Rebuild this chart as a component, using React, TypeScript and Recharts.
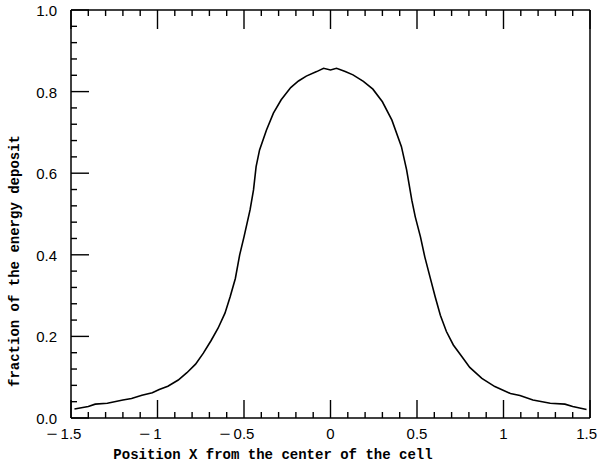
import React from 'react';
import { LineChart, Line, XAxis, YAxis } from 'recharts';

const xValues = [
  -1.48, -1.4, -1.36, -1.29, -1.2, -1.15, -1.09, -1.03, -0.99, -0.94, -0.88, -0.83, -0.78, -0.735,
  -0.69, -0.65, -0.61, -0.58, -0.55, -0.525, -0.5, -0.465, -0.445, -0.43, -0.41, -0.37, -0.33,
  -0.285, -0.23, -0.185, -0.14, -0.08, -0.04, 0.0, 0.035, 0.085, 0.13, 0.19, 0.245, 0.3, 0.355,
  0.41, 0.44, 0.47, 0.49, 0.52, 0.545, 0.575, 0.605, 0.635, 0.67, 0.71, 0.76, 0.805, 0.875, 0.95,
  1.04, 1.095, 1.17, 1.27, 1.355, 1.4, 1.48,
];
const energyFraction = [
  0.022, 0.028, 0.034, 0.036, 0.044, 0.048, 0.056, 0.062, 0.07, 0.078, 0.093, 0.111, 0.132, 0.159,
  0.19, 0.22, 0.257, 0.297, 0.342, 0.4, 0.444, 0.51, 0.559, 0.616, 0.657, 0.706, 0.747,
  0.78, 0.81, 0.826, 0.838, 0.849, 0.857, 0.853, 0.857, 0.849, 0.841, 0.825, 0.806, 0.775, 0.73,
  0.665, 0.608, 0.534, 0.493, 0.444, 0.395, 0.346, 0.297, 0.252, 0.212, 0.179, 0.15, 0.124, 0.097, 0.077,
  0.06, 0.055, 0.044, 0.036, 0.034, 0.028, 0.021,
];

const xTicks = [
  -1.5, -1.4, -1.3, -1.2, -1.1, -1.0, -0.9, -0.8, -0.7, -0.6, -0.5, -0.4, -0.3, -0.2, -0.1, 0,
  0.1, 0.2, 0.3, 0.4, 0.5, 0.6, 0.7, 0.8, 0.9, 1.0, 1.1, 1.2, 1.3, 1.4, 1.5,
];
const xMajorTicks = [-1.5, -1, -0.5, 0, 0.5, 1, 1.5];
const xMajorLabels = ['1.5', '1', '0.5', '0', '0.5', '1', '1.5'];

const yTicks = [
  0, 0.04, 0.08, 0.12, 0.16, 0.2, 0.24, 0.28, 0.32, 0.36, 0.4, 0.44, 0.48, 0.52, 0.56, 0.6,
  0.64, 0.68, 0.72, 0.76, 0.8, 0.84, 0.88, 0.92, 0.96, 1.0,
];
const yMajorTicks = [0, 0.2, 0.4, 0.6, 0.8, 1.0];
const yMajorLabels = ['0.0', '0.2', '0.4', '0.6', '0.8', '1.0'];

const xTitle = 'Position X from the center of the cell';
const yTitle = 'fraction of the energy deposit';

const data = xValues.map((x, i) => ({ x, y: energyFraction[i] }));

const TICK_FONT = '"Liberation Sans", Arial, sans-serif';
const TITLE_FONT = '"Liberation Mono", "Courier New", monospace';
const FS = 15;

function majorIndex(arr: number[], v: number) {
  for (let i = 0; i < arr.length; i++) {
    if (Math.abs(arr[i] - v) < 1e-6) return i;
  }
  return -1;
}

function labelWidth(s: string) {
  let w = 0;
  for (let i = 0; i < s.length; i++) w += s[i] === '.' ? 0.278 * FS : 0.556 * FS;
  return w;
}

const BottomTick = (props: any) => {
  const x = Number(props.x);
  const y = Number(props.y);
  const idx = majorIndex(xMajorTicks, props.payload.value);
  const len = idx >= 0 ? 18 : 6;
  const label = idx >= 0 ? xMajorLabels[idx] : '';
  const neg = idx >= 0 && xMajorTicks[idx] < 0;
  const half = labelWidth(label) / 2;
  const cx = Math.min(x, 597 - half);
  return (
    <g>
      <path d={`M${x},${y}V${y - len}`} stroke="#000" strokeWidth={1.4} fill="none" />
      {idx >= 0 ? (
        <text x={cx} y={y + 21} textAnchor="middle" fontFamily={TICK_FONT} fontSize={FS} fill="#000">
          {label}
        </text>
      ) : null}
      {neg ? (
        <text x={cx - half - 14} y={y + 21} fontFamily={TICK_FONT} fontSize={FS} fill="#000"
          textLength={11} lengthAdjust="spacingAndGlyphs">
          −
        </text>
      ) : null}
    </g>
  );
};

const TopTick = (props: any) => {
  const x = Number(props.x);
  const y = Number(props.y);
  const len = majorIndex(xMajorTicks, props.payload.value) >= 0 ? 19 : 6;
  return (
    <g>
      <path d={`M${x},${y}V${y + len}`} stroke="#000" strokeWidth={1.4} fill="none" />
    </g>
  );
};

const LeftTick = (props: any) => {
  const x = Number(props.x);
  const y = Number(props.y);
  const idx = majorIndex(yMajorTicks, props.payload.value);
  const len = idx >= 0 ? 18 : 6;
  return (
    <g>
      <path d={`M${x},${y}H${x + len}`} stroke="#000" strokeWidth={1.4} fill="none" />
      {idx >= 0 ? (
        <text x={x - 14} y={y + 6} textAnchor="end" fontFamily={TICK_FONT} fontSize={FS} fill="#000">
          {yMajorLabels[idx]}
        </text>
      ) : null}
    </g>
  );
};

const RightTick = (props: any) => {
  const x = Number(props.x);
  const y = Number(props.y);
  const len = majorIndex(yMajorTicks, props.payload.value) >= 0 ? 17 : 6;
  return (
    <g>
      <path d={`M${x},${y}H${x - len}`} stroke="#000" strokeWidth={1.4} fill="none" />
    </g>
  );
};

const XTitle = () => (
  <text x={273} y={459} textAnchor="middle" fontFamily={TITLE_FONT} fontWeight="bold" fontSize={14} fill="#000">
    {xTitle}
  </text>
);

const YTitle = () => (
  <text x={19} y={261} transform="rotate(-90, 19, 261)" textAnchor="middle" fontFamily={TITLE_FONT}
    fontWeight="bold" fontSize={14} fill="#000">
    {yTitle}
  </text>
);

export default function App() {
  return (
    <div style={{ position: 'absolute', left: 0, top: 0, width: 598, background: '#fff' }}>
      <LineChart width={598} height={467} data={data} margin={{ top: 0, right: 0, bottom: 0, left: 0 }}>
        <XAxis xAxisId="b" dataKey="x" type="number" orientation="bottom" domain={[-1.5, 1.5]}
          ticks={xTicks} interval={0} height={49} tickSize={0} tickMargin={0} tickLine={false}
          axisLine={{ stroke: '#000', strokeWidth: 1.5 }} tick={<BottomTick />}
          label={<XTitle />} />
        <XAxis xAxisId="t" dataKey="x" type="number" orientation="top" domain={[-1.5, 1.5]}
          ticks={xTicks} interval={0} height={10} tickSize={0} tickMargin={0} tickLine={false}
          axisLine={{ stroke: '#000', strokeWidth: 1.5 }} tick={<TopTick />} />
        <YAxis yAxisId="l" type="number" orientation="left" domain={[0, 1]} ticks={yTicks} interval={0}
          width={71} tickSize={0} tickMargin={0} tickLine={false}
          axisLine={{ stroke: '#000', strokeWidth: 1.5 }} tick={<LeftTick />}
          label={<YTitle />} />
        <YAxis yAxisId="r" type="number" orientation="right" domain={[0, 1]} ticks={yTicks} interval={0}
          width={8} tickSize={0} tickMargin={0} tickLine={false}
          axisLine={{ stroke: '#000', strokeWidth: 1.5 }} tick={<RightTick />} />
        <Line xAxisId="b" yAxisId="l" dataKey="y" type="linear" stroke="#000" strokeWidth={1.6}
          dot={false} activeDot={false} isAnimationActive={false} />
      </LineChart>
    </div>
  );
}
